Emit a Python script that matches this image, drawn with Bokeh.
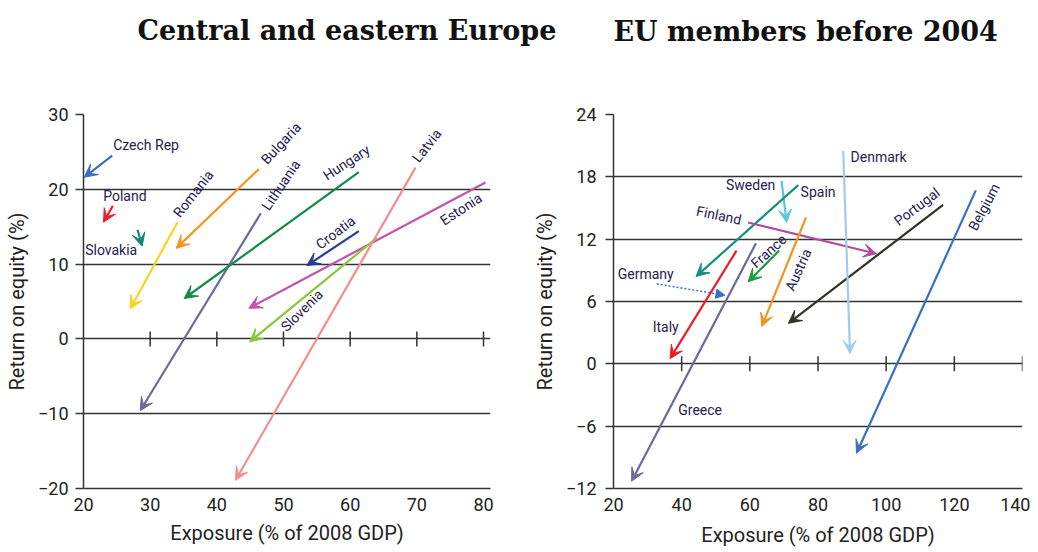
from bokeh.plotting import figure
from bokeh.models import (Arrow, VeeHead, NormalHead, ColumnDataSource, Range1d,
                          FixedTicker, LinearAxis)
from bokeh.layouts import row
from bokeh.embed import file_html
from bokeh.resources import INLINE
from bokeh.core.properties import value
import numpy as np

# ---------------- Central and eastern Europe ----------------
cee_names = ["Czech Rep", "Poland", "Slovakia", "Romania", "Bulgaria", "Lithuania",
             "Hungary", "Croatia", "Estonia", "Slovenia", "Latvia"]
cee_x0 = [24.3, 24.4, 28.1, 34.1, 46.3, 46.6, 61.3, 61.3, 80.3, 64.0, 69.8]
cee_y0 = [24.5, 17.8, 14.6, 15.6, 22.7, 16.8, 22.3, 14.4, 20.9, 13.5, 22.9]
cee_x1 = [20.1, 23.0, 28.8, 27.0, 33.9, 28.5, 35.1, 53.5, 44.8, 44.9, 42.8]
cee_y1 = [21.6, 15.6, 12.4, 4.0, 12.1, -9.6, 5.4, 9.8, 4.1, -0.4, -18.9]
cee_colors = ["#3a6fc4", "#e8202a", "#12867a", "#ffd21a", "#f7941d", "#6a6a9e",
              "#13894a", "#2b3a9a", "#c053ae", "#8cc63f", "#f48c8c"]
cee_label_x = [24.45, 22.96, 20.25, 33.9, 47.0, 47.2, 56.15, 55.1, 73.7, 49.95, 69.75]
cee_label_y = [25.87, 19.07, 11.87, 16.5, 23.67, 17.4, 21.67, 12.43, 15.67, 1.33, 23.87]
cee_label_angle = [0, 0, 0, 52, 47, 56, 33, 37, 33, 45, 52]
cee_xticks = [20, 30, 40, 50, 60, 70, 80]
cee_yticks = [-20, -10, 0, 10, 20, 30]

# ---------------- EU members before 2004 ----------------
eu_names = ["Sweden", "Spain", "Finland", "Germany", "France", "Austria",
            "Portugal", "Denmark", "Belgium", "Italy", "Greece"]
eu_x0 = [69.3, 74.2, 59.5, 32.7, 68.6, 76.5, 116.7, 87.4, 126.3, 56.1, 61.8]
eu_y0 = [17.6, 17.2, 13.6, 7.7, 10.9, 14.1, 15.3, 20.5, 16.7, 10.9, 11.6]
eu_x1 = [70.8, 44.2, 97.2, 52.7, 59.5, 63.5, 71.3, 89.4, 91.3, 36.6, 25.3]
eu_y1 = [13.6, 8.4, 10.6, 6.6, 7.9, 3.6, 3.9, 1.0, -8.6, 0.5, -11.3]
eu_colors = ["#5cc6dc", "#14907f", "#b3489e", "#3a6fc4", "#1c9a3c", "#f7941d",
             "#2e3322", "#a0cbec", "#3a6fc4", "#ec1c24", "#6a6a9e"]
eu_dashed = [False, False, False, True, False, False, False, False, False, False, False]
eu_label_x = [53.0, 74.9, 44.4, 21.23, 60.9, 71.55, 102.8, 89.56, 125.2, 31.5, 39.0]
eu_label_y = [17.26, 16.52, 14.76, 8.63, 9.49, 7.1, 13.6, 19.94, 12.94, 3.52, -4.41]
eu_label_angle = [0, 0, -12, 0, 42, 66, 37, 0, 62, 0, 0]
eu_xticks = [20, 40, 60, 80, 100, 120, 140]
eu_yticks = [-12, -6, 0, 6, 12, 18, 24]

TICK_FONT = "Roboto"
LABEL_COLOR = "#1f2050"
AXIS_COLOR = "#333333"


def make_panel(title, names, x0, y0, x1, y1, colors, lx, ly, lang, xticks, yticks,
               xr, yr, width, b_left, b_right, b_top, b_bottom, title_offset, spacer,
               ylab_standoff, xlab_standoff, dashed=None):
    p = figure(width=width, height=551, x_range=Range1d(*xr), y_range=Range1d(*yr),
               output_backend="svg", toolbar_location=None,
               min_border_left=b_left, min_border_right=b_right,
               min_border_top=b_top, min_border_bottom=b_bottom)
    p.outline_line_color = None
    p.background_fill_color = "white"
    p.border_fill_color = None

    xa = p.below[0]
    ya = p.left[0]
    xa.ticker = FixedTicker(ticks=xticks)
    ya.ticker = FixedTicker(ticks=yticks)

    # blank spacer between title and frame: one white tick, no label drawn
    sp = LinearAxis(ticker=FixedTicker(ticks=[xr[0]]), axis_line_color=None,
                    major_tick_line_color="white", minor_tick_line_color=None,
                    major_tick_out=spacer, major_tick_in=0, minor_tick_out=0,
                    minor_tick_in=0, major_label_standoff=0,
                    major_label_text_color=None, major_label_text_font_size="1px")
    p.add_layout(sp, "above")

    p.title.text = title
    p.title.align = "left"
    p.title.offset = title_offset
    p.title.text_font = "DejaVu Serif"
    p.title.text_font_size = "27px"
    p.title.text_font_style = "bold"
    p.title.text_color = "#111111"
    p.title.standoff = 10

    for ax in (xa, ya):
        ax.axis_line_color = AXIS_COLOR
        ax.axis_line_width = 1.5
        ax.major_tick_line_color = AXIS_COLOR
        ax.major_tick_line_width = 1.5
        ax.minor_tick_line_color = None
        ax.major_label_text_font = TICK_FONT
        ax.major_label_text_font_size = "18px"
        ax.major_label_text_color = "#222222"
        ax.axis_label_text_font = TICK_FONT
        ax.axis_label_text_font_size = "20px"
        ax.axis_label_text_font_style = "normal"
        ax.axis_label_text_color = "#222222"
    xa.major_tick_out = 0
    xa.major_tick_in = 0
    xa.major_label_standoff = 9
    xa.axis_label = "Exposure (% of 2008 GDP)"
    xa.axis_label_standoff = xlab_standoff
    ya.major_tick_out = 8
    ya.major_tick_in = 0
    ya.major_label_standoff = ylab_standoff
    ya.axis_label = "Return on equity (%)"
    ya.axis_label_standoff = 6

    p.xgrid.grid_line_color = None
    p.ygrid.ticker = FixedTicker(ticks=yticks)
    p.ygrid.grid_line_color = AXIS_COLOR
    p.ygrid.grid_line_width = 1.3

    # tick crosses on the zero line
    inner = [t for t in xticks if t != xr[0]]
    p.scatter(x=inner, y=[0] * len(inner), marker="dash", angle=np.pi / 2,
              size=15, line_color=AXIS_COLOR, line_width=1.5)

    # arrows
    for i in range(len(names)):
        dash = dashed[i] if dashed is not None else False
        if dash:
            head = NormalHead(size=9, fill_color=colors[i], line_color=colors[i], line_width=1)
            p.add_layout(Arrow(end=head, x_start=x0[i], y_start=y0[i], x_end=x1[i], y_end=y1[i],
                               line_color=colors[i], line_width=1.5, line_dash="2 2"))
        else:
            head = VeeHead(size=13, fill_color=colors[i], line_color=colors[i], line_width=1)
            p.add_layout(Arrow(end=head, x_start=x0[i], y_start=y0[i], x_end=x1[i], y_end=y1[i],
                               line_color=colors[i], line_width=2.2))

    src = ColumnDataSource(dict(x=lx, y=ly, text=names,
                                angle=[a * np.pi / 180 for a in lang]))
    p.text(x="x", y="y", text="text", angle="angle", source=src,
           text_font=value("Roboto"), text_font_size="14px", text_color=LABEL_COLOR,
           text_align="left", text_baseline="middle")
    return p


p1 = make_panel("Central and eastern Europe", cee_names, cee_x0, cee_y0, cee_x1, cee_y1,
                cee_colors, cee_label_x, cee_label_y, cee_label_angle, cee_xticks, cee_yticks,
                (20, 81.05), (-20, 30), 560, 83, 70, 114, 61, 54, 64, 7, 7)
p2 = make_panel("EU members before 2004", eu_names, eu_x0, eu_y0, eu_x1, eu_y1,
                eu_colors, eu_label_x, eu_label_y, eu_label_angle, eu_xticks, eu_yticks,
                (20, 140), (-12, 24), 502, 85, 8, 113, 63, 0, 63, 9, 9, dashed=eu_dashed)
# let the left title run under the (transparent) left border of the right panel
p1.margin = (0, -32, 0, 0)

layout = row(p1, p2)
open("out.html", "w").write(file_html(layout, INLINE))
